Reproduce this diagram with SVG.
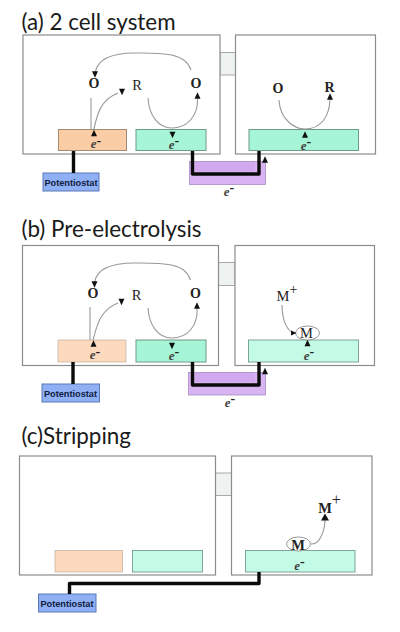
<svg xmlns="http://www.w3.org/2000/svg" width="400" height="632" viewBox="0 0 400 632">
<style>
.title{font-family:"Lato","Liberation Sans",sans-serif;font-size:22.4px;fill:#1a1a1a}
.box{fill:#fff;stroke:#8c8c8c;stroke-width:1.2}
.bridge{fill:#eef2f0;stroke:#a8a8a8;stroke-width:1}
.or{fill:#fbcda6;stroke:#a08a70;stroke-width:1}
.or2{fill:#fdd9bd;stroke:#b5a490;stroke-width:.6}
.gr{fill:#a6f5d6;stroke:#6f9a88;stroke-width:1}
.gr2{fill:#c4fbe6;stroke:#7fa598;stroke-width:1}
.pot{fill:#8fb0f5;stroke:#5a78b5;stroke-width:1}
.potT{font-family:"Liberation Sans",sans-serif;font-weight:700;font-size:9.2px;fill:#10203f;text-anchor:middle}
.pur{fill:#d8b4f2;stroke:#a98cc0;stroke-width:.8}
.pur2{fill:#d2a8ee;stroke:none}
.wire{fill:none;stroke:#0a0a0a;stroke-width:3.4;stroke-linejoin:round}
.flow{fill:none;stroke:#999;stroke-width:1.1}
.head{fill:#111}
.sp{font-family:"Liberation Serif",serif;font-size:14.5px;fill:#222;text-anchor:middle}
.b{font-weight:700;font-size:14px}
.e{font-family:"Liberation Serif",serif;font-size:13px;font-style:italic;font-weight:700;fill:#444;text-anchor:middle}
.e tspan{font-style:normal;font-size:14px;fill:#222}
.ell{fill:#fff;stroke:#999;stroke-width:1}
</style>
<defs>
<path id="up" class="head" d="M-3-3.2L3-3.2L0 3.2Z" transform="scale(1,-1)"/>
<path id="dn" class="head" d="M-3-3.2L3-3.2L0 3.2Z"/>
</defs>

<g id="title-a"><text class="title" x="21.5" y="30">(a) 2 cell system</text></g>
<g id="title-b"><text class="title" x="21.5" y="237">(b) Pre-electrolysis</text></g>
<g id="title-c"><text class="title" x="21.5" y="444">(c)Stripping</text></g>

<g id="cell-a-bridge"><rect class="bridge" x="220" y="52.5" width="15.5" height="22.5"/></g>
<g id="cell-a-left"><rect class="box" x="23" y="35" width="197" height="119"/></g>
<g id="cell-a-right"><rect class="box" x="235.5" y="35" width="140" height="119"/></g>
<g id="purple-a"><rect class="pur" x="189.5" y="161.500" width="76" height="23"/><rect class="pur2" x="195" y="162" width="60" height="9"/></g>
<g id="electrode-a1"><rect class="or" x="58.500" y="129.500" width="68" height="21"/><text class="e" x="96" y="148">e<tspan dy="-3">-</tspan></text></g>
<g id="electrode-a2"><rect class="gr" x="136" y="129.500" width="70" height="21"/><text class="e" x="174" y="149">e<tspan dy="-4">-</tspan></text></g>
<g id="electrode-a3"><rect class="gr" x="249" y="129.500" width="109.500" height="21"/><text class="e" x="306" y="149.500">e<tspan dy="-4">-</tspan></text></g>
<g id="pot-a"><rect class="pot" x="43" y="173" width="56" height="18"/><text class="potT" x="71" y="185.500">Potentiostat</text></g>
<g id="labels-a">
<text class="sp b" x="94" y="88">O</text><text class="sp" x="137" y="90">R</text><text class="sp b" x="196" y="88">O</text>
<text class="sp b" x="278" y="93">O</text><text class="sp b" x="329.500" y="91.500">R</text>
<text class="e" x="229" y="196">e<tspan dy="-4">-</tspan></text>
</g>

<g id="cell-b-bridge"><rect class="bridge" x="218.500" y="262.500" width="16.500" height="23"/></g>
<g id="cell-b-left"><rect class="box" x="22.500" y="245.500" width="196" height="120"/></g>
<g id="cell-b-right"><rect class="box" x="235" y="245.500" width="139.500" height="120"/></g>
<g id="purple-b"><rect class="pur" x="188.500" y="372.500" width="77" height="22.500"/><rect class="pur2" x="195" y="373" width="60" height="9"/></g>
<g id="electrode-b1"><rect class="or2" x="58" y="340" width="68" height="22"/><text class="e" x="95" y="359">e<tspan dy="-3">-</tspan></text></g>
<g id="electrode-b2"><rect class="gr" x="136" y="340" width="70" height="22"/><text class="e" x="174" y="360">e<tspan dy="-4">-</tspan></text></g>
<g id="electrode-b3"><rect class="gr2" x="248.500" y="340" width="110" height="22"/><text class="e" x="309" y="360">e<tspan dy="-4">-</tspan></text></g>
<g id="pot-b"><rect class="pot" x="42" y="384" width="57.500" height="18"/><text class="potT" x="70.500" y="396.500">Potentiostat</text></g>
<g id="labels-b">
<text class="sp b" x="93" y="298">O</text><text class="sp" x="136.500" y="300">R</text><text class="sp b" x="195.500" y="298">O</text>
<text class="sp" x="287" y="301" font-size="15">M<tspan dy="-7" font-size="14">+</tspan></text>
<text class="e" x="230" y="406.500">e<tspan dy="-4">-</tspan></text>
</g>

<g id="cell-c-bridge"><rect class="bridge" x="215.500" y="473" width="16" height="22.500"/></g>
<g id="cell-c-left"><rect class="box" x="19.500" y="456" width="196" height="119"/></g>
<g id="cell-c-right"><rect class="box" x="231.500" y="456" width="140.500" height="119"/></g>
<g id="electrode-c1"><rect class="or2" x="55" y="550.500" width="67.500" height="21.500"/></g>
<g id="electrode-c2"><rect class="gr2" x="132.500" y="550.500" width="70" height="21.500"/></g>
<g id="electrode-c3"><rect class="gr2" x="245.500" y="550.500" width="109.500" height="21.500"/><text class="e" x="299.500" y="570">e<tspan dy="-4">-</tspan></text></g>
<g id="pot-c"><rect class="pot" x="38.500" y="594" width="57.500" height="18"/><text class="potT" x="67" y="607">Potentiostat</text></g>
<g id="labels-c">
<text class="sp" x="329.500" y="513" font-size="15" font-weight="700">M<tspan dy="-8" font-size="16" font-weight="400">+</tspan></text>
</g>

<g id="metal-b"><ellipse class="ell" cx="307.500" cy="333" rx="12" ry="7"/><text class="sp" x="306.500" y="338">M</text></g>
<g id="metal-c"><ellipse class="ell" cx="298.500" cy="544" rx="12" ry="7"/><text class="sp" x="298" y="549.500" font-size="14" font-weight="700">M</text></g>

<g id="connectors">
<path class="wire" d="M73.500 151V173"/>
<path class="wire" d="M192.500 151V174H259V151"/>
<path class="wire" d="M73 362V384"/>
<path class="wire" d="M192.500 362V385H259V362"/>
<path class="wire" d="M69.500 594V583.500H259V572"/>

<path class="flow" d="M191 70C185 52 160 53 135 53C110 53 97 60 95 73"/>
<path class="flow" d="M91 98V129"/>
<path class="flow" d="M94 129C97 115 100 100 118 93"/>
<path class="flow" d="M148 98C149 115 158 128 172 128C188 128 198 115 197.500 99"/>
<path class="flow" d="M279 100C280 120 295 129 305 129C320 129 329 118 330 100"/>
<use href="#dn" x="95" y="74.500"/><use href="#dn" x="122" y="92"/>
<use href="#up" x="197.500" y="95.500"/><use href="#up" x="94" y="133"/><use href="#dn" x="172.500" y="135"/>
<use href="#up" x="330" y="96.500"/><use href="#up" x="305" y="134.500"/><use href="#up" x="265" y="159.500"/>

<path class="flow" d="M190.500 280C185 262 160 263 135 263C110 263 96 270 94.500 283"/>
<path class="flow" d="M90 307V340"/>
<path class="flow" d="M93 340C97 325 100 310 118 303"/>
<path class="flow" d="M148 308C149 325 158 338 172 338C188 338 198 325 197 309"/>
<path class="flow" d="M282 305C282 320 287 331 294 333"/>
<use href="#dn" x="94.500" y="284.500"/><use href="#dn" x="121.500" y="302"/><use href="#up" x="197" y="305.500"/>
<use href="#up" x="93.500" y="343.500"/><use href="#dn" x="172" y="346"/>
<use href="#up" x="265" y="371"/><use href="#up" x="307.500" y="343"/>
<path class="head" d="M291 330.500L296.500 333L291 335.500Z"/>

<path class="flow" d="M311 544C320 545 325 530 325 519"/>
<path class="head" d="M321 520.500L325 513.500L329 520.500Z"/>
</g>
</svg>
